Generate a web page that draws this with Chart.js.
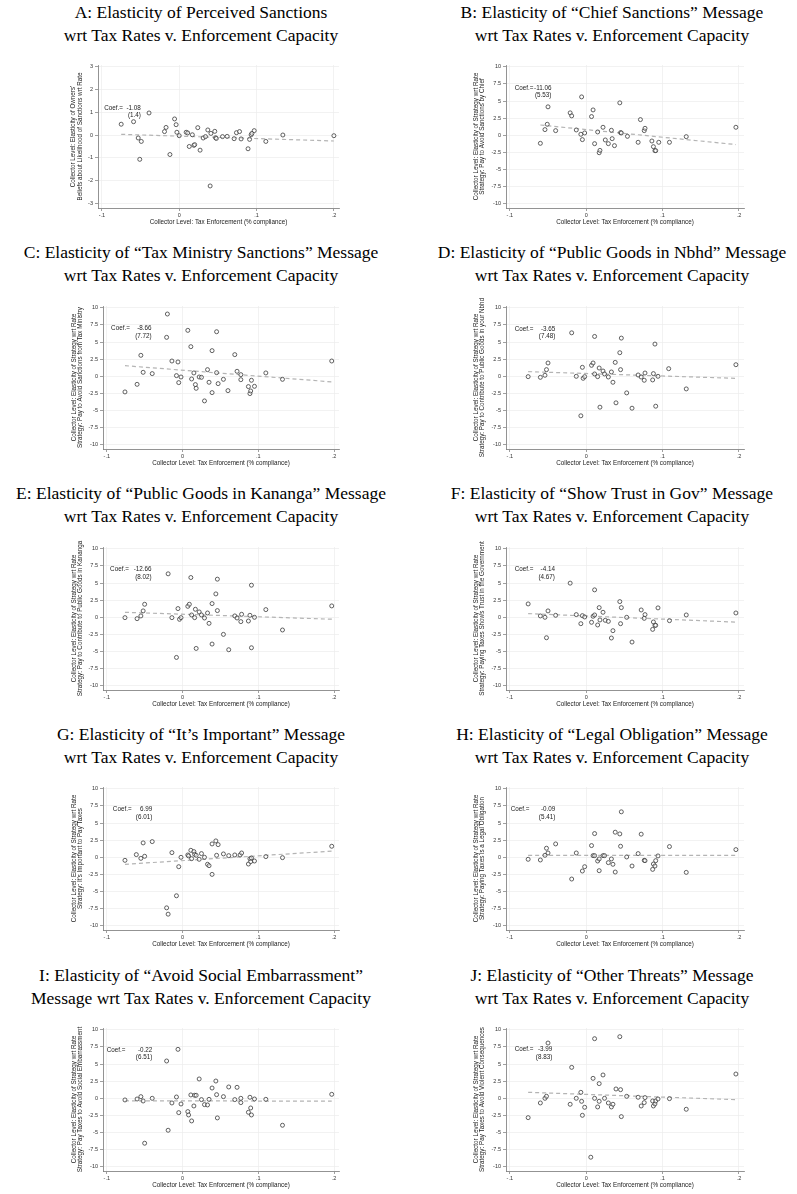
<!DOCTYPE html>
<html>
<head>
<meta charset="utf-8">
<script src="https://cdn.jsdelivr.net/npm/chart.js@4.4.0/dist/chart.umd.min.js"></script>
<style>
  body { margin: 0; background: #fff; width: 797px; height: 1194px; position: relative; overflow: hidden; }
  .ttl { position: absolute; width: 420px; text-align: center; font: 17.5px 'Liberation Serif', 'Times New Roman', serif;
         line-height: 23px; color: #000; white-space: nowrap; }
  canvas { position: absolute; }
</style>
</head>
<body>
<script>
// ---- data ----
const xTicks = [-0.1, 0, 0.1, 0.2];
const xTickLabels = ['-.1', '0', '.1', '.2'];
const yTicksWide = [-10, -7.5, -5, -2.5, 0, 2.5, 5, 7.5, 10];
const yTickLabelsWide = ['-10', '-7.5', '-5', '-2.5', '0', '2.5', '5', '7.5', '10'];
const yTicksA = [-3, -2, -1, 0, 1, 2, 3];
const yTickLabelsA = ['-3', '-2', '-1', '0', '1', '2', '3'];

const xTitle = 'Collector Level: Tax Enforcement (% compliance)';

const panelTitles = [
  ['A: Elasticity of Perceived Sanctions', 'wrt Tax Rates v. Enforcement Capacity'],
  ['B: Elasticity of \u201cChief Sanctions\u201d Message', 'wrt Tax Rates v. Enforcement Capacity'],
  ['C: Elasticity of \u201cTax Ministry Sanctions\u201d Message', 'wrt Tax Rates v. Enforcement Capacity'],
  ['D: Elasticity of \u201cPublic Goods in Nbhd\u201d Message', 'wrt Tax Rates v. Enforcement Capacity'],
  ['E: Elasticity of \u201cPublic Goods in Kananga\u201d Message', 'wrt Tax Rates v. Enforcement Capacity'],
  ['F: Elasticity of \u201cShow Trust in Gov\u201d Message', 'wrt Tax Rates v. Enforcement Capacity'],
  ['G: Elasticity of \u201cIt\u2019s Important\u201d Message', 'wrt Tax Rates v. Enforcement Capacity'],
  ['H: Elasticity of \u201cLegal Obligation\u201d Message', 'wrt Tax Rates v. Enforcement Capacity'],
  ['I: Elasticity of \u201cAvoid Social Embarrassment\u201d', 'Message wrt Tax Rates v. Enforcement Capacity'],
  ['J: Elasticity of \u201cOther Threats\u201d Message', 'wrt Tax Rates v. Enforcement Capacity']
];

const yTitles = [
  ["Collector Level: Elasticity of Owners'", 'Beliefs about Likelihood of Sanctions wrt Rate'],
  ['Collector Level: Elasticity of Strategy wrt Rate', 'Strategy: Pay to Avoid Sanctions by Chief'],
  ['Collector Level: Elasticity of Strategy wrt Rate', 'Strategy: Pay to Avoid Sanctions from Tax Ministry'],
  ['Collector Level: Elasticity of Strategy wrt Rate', 'Strategy: Pay to Contribute to Public Goods in your Nbhd'],
  ['Collector Level: Elasticity of Strategy wrt Rate', 'Strategy: Pay to Contribute to Public Goods in Kananga'],
  ['Collector Level: Elasticity of Strategy wrt Rate', 'Strategy: Paying Taxes Shows Trust in the Government'],
  ['Collector Level: Elasticity of Strategy wrt Rate', "Strategy: It's Important to Pay Taxes"],
  ['Collector Level: Elasticity of Strategy wrt Rate', 'Strategy: Paying Taxes is a Legal Obligation'],
  ['Collector Level: Elasticity of Strategy wrt Rate', 'Strategy: Pay Taxes to Avoid Social Embarrassment'],
  ['Collector Level: Elasticity of Strategy wrt Rate', 'Strategy: Pay Taxes to Avoid Violent Consequences']
];

const coefs = ['-1.08', '-11.06', '-8.66', '-3.65', '-12.66', '-4.14', '6.99', '-0.09', '-0.22', '-3.99'];
const stdErrs = ['(1.4)', '(5.53)', '(7.72)', '(7.48)', '(8.02)', '(4.67)', '(6.01)', '(5.41)', '(6.51)', '(8.83)'];

// [enforcement, elasticity] per collector
const ptsA = [[-0.075,0.47],[-0.059,0.58],[-0.039,0.96],[-0.053,-0.13],[-0.049,-0.28],[-0.051,-1.06],[-0.019,0.15],[-0.017,0.33],[-0.012,-0.85],[-0.006,0.70],[-0.004,0.45],[-0.003,0.12],[0.000,-0.03],[0.009,0.12],[0.011,0.09],[0.013,-0.50],[0.017,0.01],[0.019,-0.45],[0.020,-0.42],[0.024,0.32],[0.027,-0.66],[0.031,-0.13],[0.034,-0.07],[0.037,0.22],[0.040,-2.22],[0.041,0.07],[0.046,0.16],[0.047,-0.12],[0.048,-0.15],[0.056,-0.07],[0.062,-0.06],[0.071,-0.16],[0.074,0.10],[0.078,0.15],[0.080,-0.17],[0.089,-0.60],[0.091,-0.19],[0.093,0.01],[0.094,0.07],[0.097,0.19],[0.112,-0.28],[0.134,0.00],[0.200,-0.03]];
const ptsB = [[-0.060,-1.17],[-0.054,0.83],[-0.051,1.61],[-0.050,4.15],[-0.040,0.68],[-0.021,3.27],[-0.019,2.83],[-0.013,0.78],[-0.007,0.15],[-0.006,5.60],[-0.005,-0.63],[-0.002,0.34],[0.007,2.73],[0.009,3.70],[0.011,-1.22],[0.015,0.49],[0.017,-2.54],[0.018,-2.20],[0.022,1.17],[0.025,-0.68],[0.029,-1.22],[0.033,0.73],[0.034,-0.49],[0.037,-1.51],[0.044,4.73],[0.045,0.39],[0.046,0.34],[0.054,-0.15],[0.068,-1.02],[0.071,2.29],[0.076,0.68],[0.077,1.02],[0.086,-0.83],[0.088,-1.66],[0.090,-2.24],[0.091,-2.24],[0.095,-1.02],[0.109,-1.02],[0.131,-0.20],[0.196,1.17]];
const ptsC = [[-0.076,-2.28],[-0.060,-1.17],[-0.055,3.06],[-0.052,0.58],[-0.040,0.39],[-0.020,9.08],[-0.021,5.68],[-0.014,2.23],[-0.008,0.10],[-0.006,2.09],[-0.005,-0.92],[-0.002,-0.10],[0.007,6.70],[0.011,4.32],[0.012,-0.39],[0.015,0.49],[0.017,-1.21],[0.018,-1.75],[0.022,-0.10],[0.025,-0.15],[0.029,-3.59],[0.033,0.97],[0.035,-0.87],[0.039,3.74],[0.039,-2.38],[0.045,6.50],[0.045,0.53],[0.047,-1.07],[0.054,-0.44],[0.060,-2.09],[0.069,3.16],[0.072,0.73],[0.077,0.24],[0.077,-0.49],[0.087,-1.50],[0.089,-2.52],[0.090,-2.14],[0.091,-0.58],[0.095,-1.46],[0.110,0.49],[0.132,-0.44],[0.197,2.23]];
const ptsD = [[-0.076,-0.05],[-0.060,-0.15],[-0.054,0.15],[-0.052,0.97],[-0.050,1.94],[-0.019,6.34],[-0.013,0.00],[-0.007,-5.76],[-0.005,1.31],[-0.004,-0.29],[-0.002,-0.05],[0.007,1.60],[0.009,1.94],[0.011,5.81],[0.011,0.34],[0.015,-0.05],[0.017,1.21],[0.018,-4.50],[0.022,0.77],[0.024,0.34],[0.029,-0.10],[0.033,0.63],[0.035,-0.87],[0.038,2.03],[0.039,-3.87],[0.044,3.44],[0.045,0.97],[0.046,5.57],[0.053,-2.42],[0.060,-4.65],[0.068,0.19],[0.072,-0.10],[0.076,-0.58],[0.077,0.48],[0.087,-0.53],[0.088,0.39],[0.090,4.70],[0.091,-4.36],[0.094,0.00],[0.108,1.11],[0.131,-1.84],[0.196,1.69]];
const ptsE = [[-0.076,-0.05],[-0.060,-0.20],[-0.055,0.20],[-0.052,0.93],[-0.050,1.90],[-0.019,6.34],[-0.014,-0.05],[-0.008,-5.85],[-0.006,1.27],[-0.004,-0.29],[-0.002,-0.05],[0.007,1.60],[0.009,1.90],[0.011,5.80],[0.012,0.34],[0.016,-0.05],[0.017,1.17],[0.018,-4.54],[0.022,0.78],[0.025,0.34],[0.029,-0.10],[0.033,0.63],[0.035,-0.88],[0.039,2.00],[0.039,-3.90],[0.044,3.41],[0.046,0.98],[0.046,5.56],[0.054,-2.49],[0.061,-4.73],[0.069,0.20],[0.072,-0.10],[0.077,-0.63],[0.078,0.44],[0.087,-0.54],[0.089,0.29],[0.091,4.68],[0.091,-4.44],[0.095,0.00],[0.110,1.12],[0.132,-1.85],[0.197,1.66]];
const ptsF = [[-0.076,1.95],[-0.060,0.20],[-0.054,0.00],[-0.052,-2.98],[-0.050,0.93],[-0.040,0.29],[-0.021,4.98],[-0.013,0.39],[-0.007,-0.93],[-0.005,0.24],[-0.002,0.05],[0.007,-0.73],[0.009,0.15],[0.011,4.00],[0.011,0.34],[0.015,-1.12],[0.017,1.41],[0.018,-0.39],[0.022,0.73],[0.025,-0.44],[0.029,-0.59],[0.033,-3.02],[0.035,-1.95],[0.044,2.29],[0.045,-0.93],[0.046,1.41],[0.053,0.00],[0.060,-3.61],[0.072,1.07],[0.077,0.39],[0.076,-0.15],[0.087,-1.76],[0.088,-0.68],[0.090,-1.17],[0.091,-1.17],[0.094,1.37],[0.109,-0.49],[0.131,0.34],[0.196,0.63]];
const ptsG = [[-0.076,-0.44],[-0.061,0.39],[-0.055,-0.15],[-0.052,2.10],[-0.050,0.15],[-0.040,2.29],[-0.021,-7.37],[-0.019,-8.29],[-0.014,0.68],[-0.008,-5.61],[-0.005,-1.37],[-0.002,0.00],[0.007,0.34],[0.008,0.20],[0.011,1.02],[0.012,-0.20],[0.015,0.83],[0.016,0.44],[0.018,0.29],[0.022,-0.29],[0.025,0.54],[0.029,0.00],[0.033,-1.02],[0.035,-1.22],[0.039,1.95],[0.039,-2.49],[0.044,2.39],[0.045,0.29],[0.047,1.85],[0.054,0.49],[0.061,0.24],[0.069,0.34],[0.076,0.34],[0.078,0.63],[0.087,-0.98],[0.089,-0.20],[0.090,-0.63],[0.091,-0.10],[0.095,-0.54],[0.110,0.10],[0.132,-0.05],[0.197,1.61]];
const ptsH = [[-0.076,-0.29],[-0.060,-0.39],[-0.054,0.29],[-0.052,1.32],[-0.050,0.63],[-0.040,1.95],[-0.019,-3.17],[-0.013,0.63],[-0.005,-2.00],[-0.002,-1.37],[0.007,1.71],[0.009,0.24],[0.011,0.24],[0.011,3.46],[0.015,-0.54],[0.017,-1.95],[0.017,-0.24],[0.022,0.24],[0.024,0.24],[0.029,-0.78],[0.033,-0.24],[0.035,-1.02],[0.038,3.66],[0.038,-2.15],[0.044,3.41],[0.045,1.61],[0.046,6.63],[0.053,0.05],[0.060,-1.27],[0.068,0.54],[0.072,3.37],[0.076,-0.44],[0.077,-0.49],[0.087,-1.76],[0.088,-0.98],[0.090,-1.27],[0.091,-0.49],[0.094,0.20],[0.109,1.56],[0.131,-2.20],[0.196,1.12]];
const ptsI = [[-0.076,-0.24],[-0.060,-0.10],[-0.055,0.24],[-0.052,-0.39],[-0.050,-6.55],[-0.040,0.00],[-0.021,5.44],[-0.019,-4.66],[-0.014,-0.68],[-0.008,0.19],[-0.006,7.14],[-0.005,-2.09],[-0.002,-0.83],[0.007,-1.94],[0.008,-2.43],[0.011,0.49],[0.012,-3.30],[0.015,-1.12],[0.016,0.44],[0.018,0.44],[0.022,2.82],[0.025,-0.19],[0.029,-0.92],[0.033,-0.97],[0.035,-0.15],[0.039,1.50],[0.044,2.52],[0.045,0.53],[0.046,-2.86],[0.054,0.24],[0.061,1.65],[0.069,-0.19],[0.072,1.60],[0.077,0.00],[0.077,-0.63],[0.087,-2.04],[0.089,0.15],[0.090,-1.41],[0.091,-2.43],[0.095,-0.10],[0.110,-0.15],[0.132,-3.93],[0.197,0.58]];
const ptsJ = [[-0.076,-2.82],[-0.060,-0.68],[-0.054,0.00],[-0.052,0.29],[-0.050,8.06],[-0.021,-0.87],[-0.019,4.51],[-0.013,0.00],[-0.007,0.87],[-0.006,-0.44],[-0.005,-2.48],[-0.002,-1.31],[0.006,-8.59],[0.009,2.91],[0.011,8.69],[0.011,0.00],[0.015,-1.26],[0.017,-0.44],[0.017,2.14],[0.022,3.40],[0.024,0.00],[0.029,-0.68],[0.033,-1.26],[0.035,-0.87],[0.039,1.36],[0.044,8.98],[0.045,1.26],[0.046,-2.67],[0.053,0.29],[0.068,0.15],[0.072,-1.12],[0.076,-0.63],[0.077,0.10],[0.087,-0.39],[0.088,-1.12],[0.090,-0.82],[0.091,-0.39],[0.094,-0.10],[0.109,-0.05],[0.131,-1.60],[0.196,3.54]];

// fitted line end points
const fitA = [[-0.075, 0.03], [0.200, -0.26]];
const fitB = [[-0.060, 1.50], [0.196, -1.35]];
const fitC = [[-0.076, 1.55], [0.200, -0.84]];
const fitD = [[-0.076, 0.68], [0.196, -0.30]];
const fitE = [[-0.076, 0.73], [0.200, -0.29]];
const fitF = [[-0.076, 0.54], [0.196, -0.70]];
const fitG = [[-0.076, -1.02], [0.200, 0.92]];
const fitH = [[-0.076, 0.29], [0.196, 0.28]];
const fitI = [[-0.076, -0.36], [0.197, -0.42]];
const fitJ = [[-0.076, 0.87], [0.196, -0.20]];

const allPts = [ptsA, ptsB, ptsC, ptsD, ptsE, ptsF, ptsG, ptsH, ptsI, ptsJ];
const allFits = [fitA, fitB, fitC, fitD, fitE, fitF, fitG, fitH, fitI, fitJ];

// ---- layout ----
const SANS = "'Liberation Sans', Arial, Helvetica, sans-serif";
const ROW_H = 240.8;
const CANVAS_H = 241;
const titleCenters = [201, 612];
// per column: canvas left, width, left padding, y-axis width, right padding
const cols = [
  { left: 0, w: 398, padL: 70.6, yW: 32.4, padR: 59 },
  { left: 398, w: 399, padL: 74.6, yW: 33.4, padR: 53 }
];
// where the Coef. note sits (data coords)
const notePos = [
  { l: -0.097, r: -0.0496, y1: 1.18, y2: 0.86 },
  { l: -0.0937, r: -0.0455, y1: 6.9, y2: 5.83 },
  { l: -0.0943, r: -0.0408, y1: 6.94, y2: 5.87 },
  { l: -0.0937, r: -0.0405, y1: 6.92, y2: 5.86 },
  { l: -0.0956, r: -0.0408, y1: 6.98, y2: 5.9 },
  { l: -0.0937, r: -0.041, y1: 6.98, y2: 5.85 },
  { l: -0.092, r: -0.0399, y1: 7.02, y2: 5.9 },
  { l: -0.0989, r: -0.0405, y1: 7.02, y2: 5.9 },
  { l: -0.1, r: -0.04, y1: 7.04, y2: 5.92 },
  { l: -0.0937, r: -0.0444, y1: 7.09, y2: 5.97 }
];

const coefNote = {
  id: 'coefNote',
  afterDatasetsDraw(chart, args, opts) {
    const { ctx, scales: { x, y } } = chart;
    ctx.save();
    ctx.font = '6.3px ' + SANS;
    ctx.fillStyle = '#222';
    ctx.textBaseline = 'middle';
    const l = x.getPixelForValue(opts.l), r = x.getPixelForValue(opts.r);
    const y1 = y.getPixelForValue(opts.y1), y2 = y.getPixelForValue(opts.y2);
    ctx.textAlign = 'left';
    ctx.fillText('Coef.=', l, y1);
    ctx.textAlign = 'right';
    ctx.fillText(opts.coef, r, y1);
    ctx.fillText(opts.se, r, y2);
    ctx.restore();
  }
};

function addTitle(i, row, col) {
  const d = document.createElement('div');
  d.className = 'ttl';
  d.style.left = (titleCenters[col] - 210) + 'px';
  d.style.top = (0.5 + row * ROW_H) + 'px';
  d.innerHTML = panelTitles[i][0] + '<br>' + panelTitles[i][1];
  document.body.appendChild(d);
}

function makePanel(i) {
  const row = Math.floor(i / 2), col = i % 2;
  const c = cols[col];
  const isA = i === 0;
  addTitle(i, row, col);

  const cv = document.createElement('canvas');
  cv.width = c.w; cv.height = CANVAS_H;
  cv.style.left = c.left + 'px';
  cv.style.top = Math.round(row * ROW_H) + 'px';
  document.body.appendChild(cv);

  const yTicks = isA ? yTicksA : yTicksWide;
  const yLabels = isA ? yTickLabelsA : yTickLabelsWide;
  const gridOpts = { color: '#ececec', lineWidth: 0.7, tickColor: '#777', tickLength: 3, tickWidth: 0.7 };
  const tickFont = { size: 5.5, family: SANS };

  new Chart(cv, {
    type: 'scatter',
    data: {
      datasets: [
        {
          data: allPts[i].map(([x, y]) => ({ x, y })),
          pointRadius: 2,
          borderWidth: 0.8,
          borderColor: '#3a3a3a',
          backgroundColor: 'rgba(255,255,255,0.5)',
          order: 0
        },
        {
          data: allFits[i].map(([x, y]) => ({ x, y })),
          showLine: true,
          pointRadius: 0,
          borderColor: '#b4b4b4',
          borderWidth: 1.2,
          borderDash: [4, 3],
          order: 1
        }
      ]
    },
    options: {
      responsive: false,
      animation: false,
      layout: { padding: { top: 65, left: isA ? 70 : c.padL, right: c.padR, bottom: 15 } },
      plugins: {
        legend: { display: false },
        tooltip: { enabled: false },
        coefNote: Object.assign({ coef: coefs[i], se: stdErrs[i] }, notePos[i])
      },
      scales: {
        x: {
          type: 'linear',
          min: -0.105, max: 0.2066,
          afterBuildTicks: s => { s.ticks = xTicks.map(v => ({ value: v })); },
          afterFit: s => { s.height = 18; },
          ticks: {
            callback: v => xTickLabels[xTicks.indexOf(v)],
            font: tickFont, color: '#333', padding: 1.5, maxRotation: 0, autoSkip: false
          },
          grid: gridOpts,
          border: { color: '#777', width: 0.8 },
          title: { display: true, text: xTitle, font: { size: 6.3, family: SANS }, color: '#222', padding: 0 }
        },
        y: {
          min: isA ? -3.18 : -10.6,
          max: isA ? 3.05 : 10.25,
          afterBuildTicks: s => { s.ticks = yTicks.map(v => ({ value: v })); },
          afterFit: s => { s.width = isA ? 28 : c.yW; },
          ticks: {
            callback: v => yLabels[yTicks.indexOf(v)],
            font: tickFont, color: '#333', padding: 2, autoSkip: false
          },
          grid: gridOpts,
          border: { color: '#777', width: 0.8 },
          title: {
            display: true, text: yTitles[i],
            font: { size: 6.3, family: SANS, lineHeight: 1.06 }, color: '#222', padding: 0
          }
        }
      }
    },
    plugins: [coefNote]
  });
}

for (let i = 0; i < 10; i++) makePanel(i);
</script>
</body>
</html>
